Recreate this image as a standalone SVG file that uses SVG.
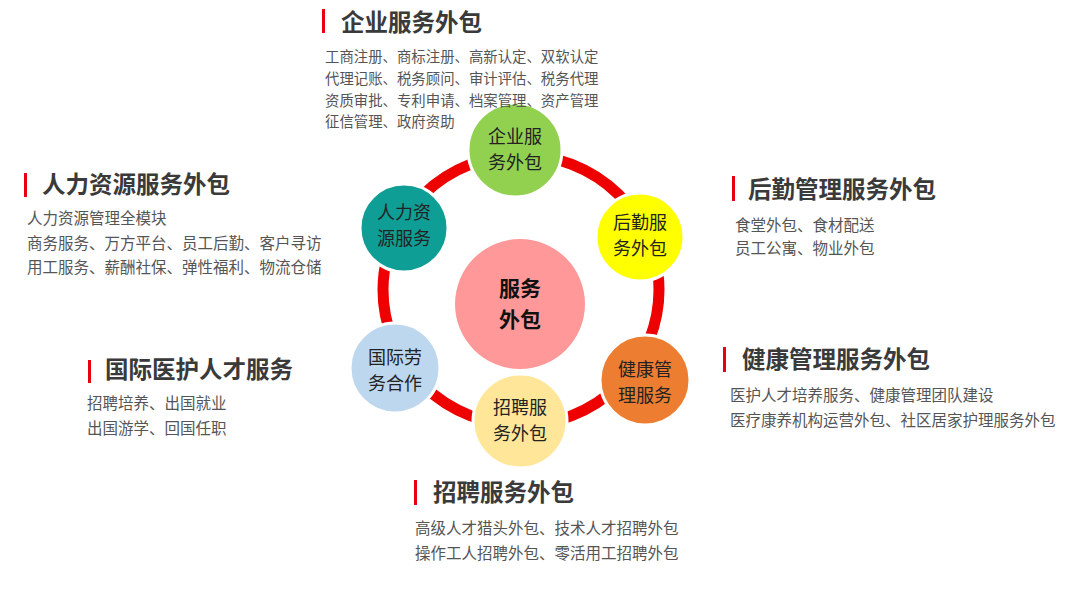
<svg xmlns="http://www.w3.org/2000/svg" width="1080" height="601" viewBox="0 0 1080 601">
<style>
.t{font-family:"Noto Sans CJK SC","Noto Sans",sans-serif;font-weight:700;font-size:23.5px;fill:#3a3a3a}
.i{font-family:"Noto Sans CJK SC","Noto Sans",sans-serif;font-size:15.5px;fill:#555}
.is{font-size:14.4px}
.bar{fill:#e60012}
.n{stroke:#fff;stroke-width:3}
.nt{font-family:"Noto Sans CJK SC","Noto Sans",sans-serif;font-size:18px;fill:#222;text-anchor:middle}
.ct{font-family:"Noto Sans CJK SC","Noto Sans",sans-serif;font-size:21px;font-weight:700;fill:#111;text-anchor:middle}
</style>
<rect width="1080" height="601" fill="#fff"/>
<g id="connectors">
<ellipse cx="521" cy="290" rx="138" ry="135" fill="none" stroke="#ee0000" stroke-width="11"/>
</g>
<g id="center">
<circle cx="520" cy="304" r="65" fill="#ff9999"/>
<text class="ct"><tspan x="520" y="296">服务</tspan><tspan x="520" y="327">外包</tspan></text>
</g>
<g id="node-qiye">
<circle class="n" cx="515" cy="150" r="47" fill="#92d050"/>
<text class="nt"><tspan x="515" y="143">企业服</tspan><tspan x="515" y="169">务外包</tspan></text>
</g>
<g id="node-houqin">
<circle class="n" cx="640" cy="237" r="44" fill="#ffff00"/>
<text class="nt"><tspan x="640" y="229">后勤服</tspan><tspan x="640" y="255">务外包</tspan></text>
</g>
<g id="node-jiankang">
<circle class="n" cx="645" cy="380" r="45" fill="#ed7d31"/>
<text class="nt"><tspan x="645" y="376">健康管</tspan><tspan x="645" y="402">理服务</tspan></text>
</g>
<g id="node-zhaopin">
<circle class="n" cx="520" cy="421" r="47" fill="#ffe699"/>
<text class="nt"><tspan x="520" y="414">招聘服</tspan><tspan x="520" y="440">务外包</tspan></text>
</g>
<g id="node-guoji">
<circle class="n" cx="395" cy="368" r="45" fill="#bdd7ee"/>
<text class="nt"><tspan x="395" y="364">国际劳</tspan><tspan x="395" y="390">务合作</tspan></text>
</g>
<g id="node-renli">
<circle class="n" cx="404" cy="228" r="44" fill="#0e9e96"/>
<text class="nt"><tspan x="404" y="219">人力资</tspan><tspan x="404" y="245">源服务</tspan></text>
</g>
<g id="label-qiye">
<rect class="bar" x="322" y="9" width="3" height="24"/>
<text class="t" x="341" y="31">企业服务外包</text>
<text class="i is" x="325" y="62">工商注册、商标注册、高新认定、双软认定</text>
<text class="i is" x="325" y="84">代理记账、税务顾问、审计评估、税务代理</text>
<text class="i is" x="325" y="105.5">资质审批、专利申请、档案管理、资产管理</text>
<text class="i is" x="325" y="127">征信管理、政府资助</text>
</g>
<g id="label-renli">
<rect class="bar" x="24" y="173" width="3" height="24"/>
<text class="t" x="42" y="193">人力资源服务外包</text>
<text class="i" x="27" y="224">人力资源管理全模块</text>
<text class="i" x="27" y="249">商务服务、万方平台、员工后勤、客户寻访</text>
<text class="i" x="27" y="273">用工服务、薪酬社保、弹性福利、物流仓储</text>
</g>
<g id="label-houqin">
<rect class="bar" x="732" y="176" width="3" height="25"/>
<text class="t" x="748" y="198">后勤管理服务外包</text>
<text class="i" x="735" y="231">食堂外包、食材配送</text>
<text class="i" x="735" y="254">员工公寓、物业外包</text>
</g>
<g id="label-jiankang">
<rect class="bar" x="723" y="347" width="3" height="25"/>
<text class="t" x="742" y="368">健康管理服务外包</text>
<text class="i" x="730" y="401">医护人才培养服务、健康管理团队建设</text>
<text class="i" x="730" y="426">医疗康养机构运营外包、社区居家护理服务外包</text>
</g>
<g id="label-guoji">
<rect class="bar" x="88" y="360" width="3" height="23"/>
<text class="t" x="105" y="378">国际医护人才服务</text>
<text class="i" x="87" y="409">招聘培养、出国就业</text>
<text class="i" x="87" y="434">出国游学、回国任职</text>
</g>
<g id="label-zhaopin">
<rect class="bar" x="414" y="480" width="3" height="25"/>
<text class="t" x="433" y="501">招聘服务外包</text>
<text class="i" x="415" y="534">高级人才猎头外包、技术人才招聘外包</text>
<text class="i" x="415" y="559">操作工人招聘外包、零活用工招聘外包</text>
</g>
</svg>
